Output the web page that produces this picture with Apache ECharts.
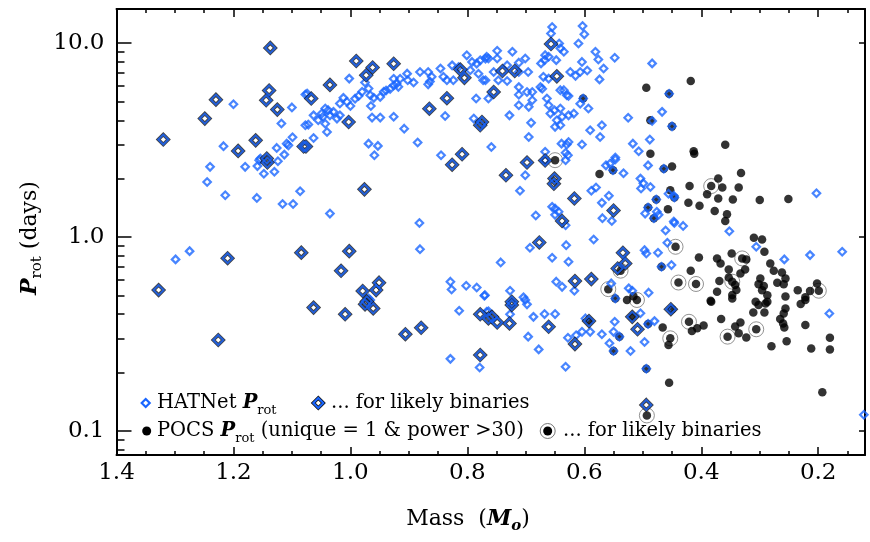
<!DOCTYPE html>
<html><head><meta charset="utf-8">
<script src="https://cdn.jsdelivr.net/npm/echarts@6/dist/echarts.min.js"></script>
<style>html,body{margin:0;padding:0;background:#fff}#c{width:870px;height:542px}</style>
</head><body><div id="c"></div>
<script>
// ---------- DATA (mass in solar masses, rotation period in days) ----------
// HATNet rotation periods (single stars)
const hatMass = [1.200,1.100,1.118,1.217,1.126,1.109,1.106,1.099,1.113,1.077,1.077,1.154,1.240,1.245,1.214,1.180,1.156,1.159,1.148,1.130,1.124,1.160,1.116,1.098,1.086,1.299,1.275,
1.002,1.074,0.975,0.969,0.980,0.986,0.992,1.000,1.012,1.018,1.006,0.966,0.965,0.960,0.949,0.943,0.939,0.932,0.926,0.921,0.915,0.918,0.926,0.903,0.902,0.892,0.881,0.867,0.864,0.867,0.861,0.846,0.841,0.835,0.826,0.824,0.815,0.801,0.795,0.792,0.784,0.778,0.769,0.767,0.781,0.773,0.785,0.838,0.789,0.926,0.949,0.963,0.908,0.885,0.969,0.953,0.959,1.072,1.063,1.055,1.049,1.043,1.038,1.029,1.023,1.040,1.063,1.047,1.035,1.043,1.018,0.845,
1.035,0.882,0.881,0.969,0.829,0.827,0.802,0.784,0.771,0.966,0.814,0.764,0.829,0.779,
0.655,0.657,0.603,0.600,0.610,0.643,0.641,0.635,0.648,0.661,0.667,0.668,0.674,0.581,0.576,0.567,0.574,0.548,0.604,0.595,0.607,0.615,0.624,0.749,0.749,0.764,0.723,0.701,0.712,0.732,0.696,0.712,0.755,0.670,0.661,0.675,0.672,0.712,0.747,0.732,0.769,0.764,0.712,0.698,0.689,0.689,0.695,0.712,0.728,0.664,0.661,0.658,0.651,0.641,0.638,0.627,0.618,0.630,0.635,0.641,0.627,0.602,0.607,0.593,0.647,0.641,0.650,0.691,0.695,0.590,0.570,0.573,0.604,0.630,0.632,0.627,0.639,0.667,0.759,0.484,0.455,0.467,0.484,0.450,0.525,0.517,0.507,0.488,0.547,
0.667,0.632,0.628,0.701,0.710,0.588,0.580,0.570,0.558,0.655,0.650,0.644,0.650,0.683,0.632,0.569,0.553,0.584,0.693,0.631,0.743,0.655,0.627,0.648,0.638,0.617,0.727,0.704,0.770,0.563,0.547,0.533,0.556,0.551,0.491,0.464,0.504,0.499,0.503,0.487,0.456,0.447,0.491,0.477,0.496,0.476,0.473,0.481,0.447,0.461,0.458,0.497,0.494,0.474,0.468,0.451,0.554,0.524,0.518,0.547,0.490,
0.446,0.203,0.446,0.431,0.352,0.306,0.258,0.214,0.159,0.450,0.181,0.122,
0.701,0.698,0.767,0.727,0.687,0.668,0.650,0.696,0.678,0.632,0.628,0.614,0.604,0.598,0.590,0.570,0.550,0.548,0.557,0.540,0.550,0.521,0.497,0.504,0.491,0.480,0.494];
const hatP = [4.84,4.66,3.85,2.94,2.88,3.03,2.97,3.27,2.66,3.77,5.43,2.54,2.30,1.92,1.64,2.30,2.49,2.32,2.12,2.17,2.46,1.59,1.48,1.48,1.72,0.766,0.845,
6.56,5.49,6.26,5.83,5.61,5.34,5.17,4.74,5.22,4.88,4.98,5.38,4.74,5.22,5.28,5.61,5.70,5.81,6.05,6.17,6.55,5.95,6.55,6.96,6.43,6.26,7.10,7.10,6.33,6.13,6.70,7.40,6.70,6.43,7.68,6.43,7.53,8.65,7.24,8.00,7.84,8.15,8.32,8.50,6.95,6.43,5.18,4.21,4.08,4.17,4.13,4.13,3.62,3.07,3.03,2.95,2.64,3.80,4.24,4.00,4.33,4.60,4.51,4.42,4.08,3.48,3.24,4.17,4.24,3.84,4.24,2.64,
1.32,1.18,0.865,0.482,0.588,0.536,0.560,0.549,0.497,0.473,0.416,0.414,0.235,0.212,
12.10,11.22,12.25,11.10,9.95,9.95,9.40,9.03,8.17,8.50,8.67,8.17,7.86,9.03,8.24,7.40,6.50,8.40,8.00,7.23,7.10,6.78,7.10,9.14,8.33,8.33,9.03,8.33,7.93,7.69,7.10,7.10,7.10,6.70,6.56,5.93,5.82,5.93,6.43,6.38,6.43,5.18,5.42,5.60,5.60,5.07,4.69,4.78,4.24,5.18,4.78,4.33,4.50,4.60,4.17,4.24,4.33,5.38,5.72,5.72,5.34,5.18,4.87,4.60,4.00,3.77,3.70,3.88,3.28,3.55,3.77,3.28,3.00,3.00,2.72,3.09,3.03,2.75,2.91,7.86,5.48,4.42,3.97,3.72,4.12,3.03,2.77,3.18,2.57,
2.49,2.49,2.64,2.08,1.73,1.73,1.80,1.50,1.63,1.43,1.40,1.35,1.30,1.29,1.15,1.25,1.21,0.971,0.880,0.907,0.739,0.781,0.745,0.588,0.553,0.528,0.528,0.488,0.501,2.34,2.51,2.13,2.39,2.21,2.34,2.25,2.00,1.89,1.78,1.81,1.67,1.63,1.42,1.56,1.32,1.35,1.30,1.25,1.20,1.08,0.934,0.855,0.822,0.829,0.702,0.716,0.576,0.543,0.528,0.482,0.516,
1.60,1.68,1.18,1.14,1.07,0.890,0.766,0.806,0.839,0.424,0.403,0.121,
0.473,0.449,0.411,0.399,0.387,0.400,0.400,0.306,0.263,0.214,0.302,0.311,0.324,0.380,0.324,0.315,0.324,0.365,0.283,0.306,0.258,0.258,0.287,0.404,0.356,0.368,0.209];

// HATNet rotation periods for likely binaries
const hatBinMass = [1.137,1.139,1.230,1.144,1.125,1.249,1.320,1.192,1.162,1.080,1.143,1.142,1.210,1.084,1.328,1.226,0.990,0.962,0.973,0.926,1.035,1.067,1.076,0.812,0.805,0.835,0.865,0.775,0.778,1.003,0.809,0.826,0.976,1.002,1.016,0.951,0.956,0.979,0.972,1.063,1.009,0.975,0.961,0.906,0.879,0.778,0.764,0.778,0.657,0.740,0.719,0.647,0.755,0.698,0.667,0.734,0.651,0.652,0.617,0.638,0.550,0.677,0.616,0.588,0.724,0.534,0.530,0.543,0.724,0.758,0.749,0.728,0.661,0.616,0.592,0.518,0.509,0.452,0.494];
const hatBinP = [9.45,5.70,5.11,5.07,4.54,4.08,3.18,2.78,3.15,2.93,2.54,2.42,0.777,0.830,0.532,0.294,8.09,7.49,6.83,7.83,6.09,5.18,2.93,7.30,6.62,5.20,4.59,3.92,3.77,3.92,2.67,2.36,1.76,0.845,0.669,0.581,0.532,0.526,0.465,0.432,0.399,0.449,0.428,0.315,0.340,0.399,0.380,0.246,9.89,7.18,7.18,6.74,5.60,2.42,2.48,2.08,2.00,1.88,1.58,1.21,1.37,0.937,0.592,0.606,0.463,0.829,0.730,0.688,0.446,0.387,0.362,0.358,0.344,0.280,0.368,0.387,0.334,0.424,0.136];

// POCS rotation periods (unique = 1 & power > 30)
const pocsMass = [0.494,0.455,0.487,0.450,0.487,0.418,0.359,0.413,0.602,0.551,0.574,0.464,0.450,0.453,0.491,0.477,0.457,0.481,0.468,0.547,0.527,0.516,0.412,0.371,0.364,0.390,0.371,0.336,0.332,0.346,0.420,0.422,0.403,0.377,0.356,0.359,0.300,0.251,0.446,0.310,0.296,0.292,0.348,0.404,0.373,0.367,0.323,0.282,0.276,0.262,0.256,0.259,0.270,0.353,0.325,0.333,0.353,0.342,0.340,0.347,0.369,0.373,0.384,0.418,0.299,0.302,0.293,0.287,0.296,0.235,0.222,0.214,0.202,0.256,0.307,0.287,0.383,0.347,0.302,0.290,0.311,0.292,0.256,0.259,0.230,0.222,0.450,0.416,0.407,0.396,0.366,0.342,0.333,0.336,0.323,0.265,0.260,0.258,0.222,0.254,0.280,0.212,0.180,0.180,0.455,0.193,0.592,0.518,0.491,0.466,0.456,0.540,0.550,0.494];
const pocsP = [5.89,5.48,4.00,3.72,2.69,6.38,2.99,2.77,5.18,2.21,2.11,2.25,2.31,1.74,1.42,1.56,1.39,1.25,0.702,0.482,0.473,0.495,2.69,2.00,1.80,1.66,1.58,1.80,2.14,1.56,1.83,1.50,1.45,1.36,1.31,1.21,1.55,1.57,1.60,0.991,0.971,0.839,0.822,0.784,0.775,0.730,0.766,0.730,0.670,0.656,0.611,0.571,0.580,0.680,0.680,0.648,0.618,0.565,0.532,0.502,0.592,0.521,0.469,0.670,0.611,0.571,0.558,0.501,0.531,0.531,0.488,0.526,0.576,0.493,0.463,0.463,0.463,0.482,0.445,0.454,0.408,0.408,0.428,0.403,0.451,0.473,0.424,0.327,0.338,0.349,0.377,0.345,0.362,0.319,0.303,0.377,0.358,0.341,0.351,0.290,0.273,0.266,0.302,0.263,0.177,0.158,0.368,0.387,0.356,0.341,0.277,0.306,0.258,0.209];

// POCS rotation periods for likely binaries
const pocsBinMass = [0.650,0.538,0.559,0.383,0.330,0.347,0.439,0.409,0.199,0.421,0.355,0.306,0.453,0.510,0.493,0.444];
const pocsBinP = [2.49,0.670,0.538,1.83,0.775,0.588,0.582,0.572,0.528,0.365,0.306,0.334,0.300,0.473,0.120,0.890];

// Axis ticks
const xMajorTicks = [0.2,0.4,0.6,0.8,1.0,1.2,1.4];
const xMinorTicks = [0.15,0.25,0.3,0.35,0.45,0.5,0.55,0.65,0.7,0.75,0.85,0.9,0.95,1.05,1.1,1.15,1.25,1.3,1.35];
const yMajorTicks = [0.1,1,10];
const yMinorTicks = [0.08,0.09,0.2,0.3,0.4,0.5,0.6,0.7,0.8,0.9,2,3,4,5,6,7,8,9];

// ---------- CHART ----------
const FONT = 'DejaVu Serif';
const BLUE = '#1a66ff';
const zip = (a, b) => a.map((v, i) => [v, b[i]]);
const X_MIN = 0.12, X_MAX = 1.4, Y_MIN = 0.075, Y_MAX = 15;

function xAx(pos, ticks, len, withLabels, line) {
  return {
    type: 'value', position: pos, inverse: true, min: X_MIN, max: X_MAX,
    splitLine: {show: false},
    axisLine: {show: line, onZero: false, lineStyle: {color: '#000', width: 2}},
    axisTick: {show: true, inside: true, length: len, customValues: ticks, lineStyle: {color: '#000', width: 1.5}},
    axisLabel: withLabels ? {show: true, customValues: ticks, margin: 7, color: '#000', fontFamily: FONT, fontSize: 23,
      formatter: v => Number(v).toFixed(1)} : {show: false}
  };
}
function yAx(pos, ticks, len, withLabels, line) {
  return {
    type: 'log', logBase: 10, position: pos, min: Y_MIN, max: Y_MAX,
    splitLine: {show: false},
    axisLine: {show: line, onZero: false, lineStyle: {color: '#000', width: 2}},
    axisTick: {show: true, inside: true, length: len, customValues: ticks, lineStyle: {color: '#000', width: 1.5}},
    axisLabel: withLabels ? {show: true, customValues: ticks, margin: 12, color: '#000', fontFamily: FONT, fontSize: 23,
      formatter: v => Number(v).toFixed(1)} : {show: false}
  };
}

const rich = (fs) => ({
  t: {fontFamily: FONT, fontSize: fs, fill: '#000', lineHeight: fs + 8},
  p: {fontFamily: FONT, fontSize: fs, fontWeight: 'bold', fontStyle: 'italic', fill: '#000', lineHeight: fs + 8},
  s: {fontFamily: FONT, fontSize: Math.round(fs * 0.66), fill: '#000', lineHeight: Math.round(fs * 0.66), verticalAlign: 'bottom'},
  si: {fontFamily: FONT, fontSize: Math.round(fs * 0.66), fontStyle: 'italic', fontWeight: 'bold', fill: '#000', lineHeight: Math.round(fs * 0.66), verticalAlign: 'bottom'}
});

function diamond(cx, cy, h) { return [[cx, cy - h], [cx + h, cy], [cx, cy + h], [cx - h, cy]]; }

const chart = echarts.init(document.getElementById('c'), null, {renderer: 'canvas'});
chart.setOption({
  animation: false,
  backgroundColor: '#fff',
  grid: {left: 116.5, right: 5, top: 9, bottom: 87, containLabel: false},
  xAxis: [
    xAx('bottom', xMajorTicks, 8, true, true),
    xAx('bottom', xMinorTicks, 4, false, false),
    xAx('top', xMajorTicks, 8, false, true),
    xAx('top', xMinorTicks, 4, false, false)
  ],
  yAxis: [
    yAx('left', yMajorTicks, 15, true, true),
    yAx('left', yMinorTicks, 8, false, false),
    yAx('right', yMajorTicks, 6, false, true)
  ],
  series: [
    {type: 'scatter', silent: true, z: 2, symbol: 'circle', symbolSize: 15,
     itemStyle: {color: 'rgba(0,0,0,0)', borderColor: '#777', borderWidth: 1},
     data: zip(pocsBinMass, pocsBinP)},
    {type: 'scatter', silent: true, z: 3, symbol: 'circle', symbolSize: 8.5,
     itemStyle: {color: '#000'},
     data: zip(pocsMass.concat(pocsBinMass), pocsP.concat(pocsBinP))},
    {type: 'scatter', silent: true, z: 4, symbol: 'diamond', symbolSize: 7.5,
     itemStyle: {color: 'rgba(0,0,0,0)', borderColor: BLUE, borderWidth: 2.2},
     data: zip(hatMass, hatP)},
    {type: 'scatter', silent: true, z: 5, symbol: 'diamond', symbolSize: 10,
     itemStyle: {color: 'rgba(0,0,0,0)', borderColor: '#111', borderWidth: 3.6},
     data: zip(hatBinMass, hatBinP)},
    {type: 'scatter', silent: true, z: 6, symbol: 'diamond', symbolSize: 10,
     itemStyle: {color: 'rgba(0,0,0,0)', borderColor: BLUE, borderWidth: 2},
     data: zip(hatBinMass, hatBinP)}
  ],
  graphic: [
    // axis titles
    {type: 'text', x: 468, y: 519, silent: true,
     style: {text: '{t|Mass  (}{p|M}{si|o}{t|)}', rich: rich(22), align: 'center', verticalAlign: 'middle'}},
    {type: 'text', x: 30, y: 238, rotation: Math.PI / 2, silent: true,
     style: {text: '{p|P}{s|rot}{t| (days)}', rich: rich(22), align: 'center', verticalAlign: 'middle'}},
    // legend row 1
    {type: 'polygon', silent: true, shape: {points: diamond(145.7, 403, 4)}, style: {fill: 'none', stroke: BLUE, lineWidth: 2.2}},
    {type: 'text', x: 157, y: 403, silent: true,
     style: {text: '{t|HATNet }{p|P}{s|rot}', rich: rich(19.5), align: 'left', verticalAlign: 'middle'}},
    {type: 'polygon', silent: true, shape: {points: diamond(318.3, 403, 5)}, style: {fill: 'none', stroke: '#111', lineWidth: 3.6}},
    {type: 'polygon', silent: true, shape: {points: diamond(318.3, 403, 5)}, style: {fill: 'none', stroke: BLUE, lineWidth: 2}},
    {type: 'text', x: 331, y: 403, silent: true,
     style: {text: '{t|... for likely binaries}', rich: rich(19.5), align: 'left', verticalAlign: 'middle'}},
    // legend row 2
    {type: 'circle', silent: true, shape: {cx: 146.7, cy: 431, r: 4.5}, style: {fill: '#000'}},
    {type: 'text', x: 157, y: 431, silent: true,
     style: {text: '{t|POCS }{p|P}{s|rot}{t| (unique = 1 & power >30)}', rich: rich(19.5), align: 'left', verticalAlign: 'middle'}},
    {type: 'circle', silent: true, shape: {cx: 547.7, cy: 431, r: 7.5}, style: {fill: 'none', stroke: '#777', lineWidth: 1}},
    {type: 'circle', silent: true, shape: {cx: 547.7, cy: 431, r: 4.5}, style: {fill: '#000'}},
    {type: 'text', x: 563, y: 431, silent: true,
     style: {text: '{t|... for likely binaries}', rich: rich(19.5), align: 'left', verticalAlign: 'middle'}}
  ]
});
</script>
</body></html>
